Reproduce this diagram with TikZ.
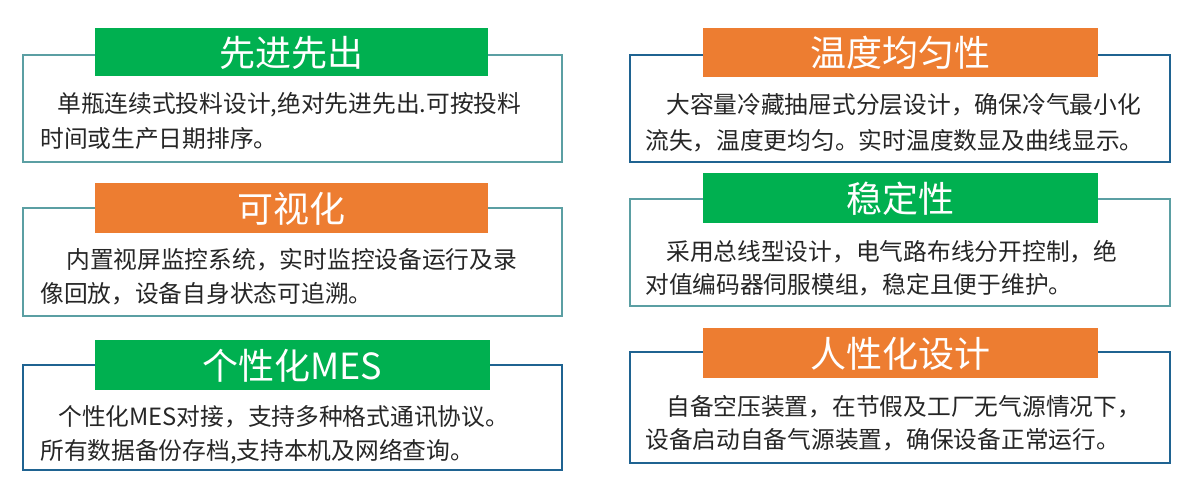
\documentclass[tikz,border=0pt]{standalone}
\usepackage{fontspec}
\newfontfamily\cjk{Noto Sans CJK SC}
\definecolor{hgreen}{HTML}{00B050}
\definecolor{horange}{HTML}{ED7D31}
\definecolor{bteal}{HTML}{5B9FA3}
\definecolor{bblue}{HTML}{1F6391}
\tikzset{
 frame/.style={draw=#1,line width=2.2pt,fill=white},
 head/.style={fill=#1,draw=none},
 htext/.style={text=white,font=\cjk\fontsize{27}{30}\selectfont,inner sep=0},
 btext/.style={anchor=west,font=\cjk\fontsize{17.8}{20}\selectfont,inner sep=0,text=black!85},
}
\begin{document}
\begin{tikzpicture}[x=0.75pt,y=-0.75pt]
\useasboundingbox (0,0) rectangle (1193,496);
% left 1
\draw[frame=bteal] (23,55) rectangle (562,162);
\path[head=hgreen] (95,28) rectangle (488,76);
\node[htext] (h1) at (291.5,53) {先进先出};
\node[btext] (t1a) at (57,105) {单瓶连续式投料设计,绝对先进先出.可按投料};
\node[btext] (t1b) at (40,139) {时间或生产日期排序。};
% left 2
\draw[frame=bteal] (23,208) rectangle (562,316);
\path[head=horange] (95,183) rectangle (488,233);
\node[htext] (h2) at (291.5,209) {可视化};
\node[btext] (t2a) at (66,260) {内置视屏监控系统，实时监控设备运行及录};
\node[btext] (t2b) at (40,294) {像回放，设备自身状态可追溯。};
% left 3
\draw[frame=bblue] (23,365) rectangle (562,470);
\path[head=hgreen] (95,340) rectangle (490,390);
\node[htext] (h3) at (292.5,366) {个性化MES};
\node[btext] (t3a) at (58,417) {个性化MES对接，支持多种格式通讯协议。};
\node[btext] (t3b) at (40,452) {所有数据备份存档,支持本机及网络查询。};
% right 1
\draw[frame=bblue] (630,55) rectangle (1170,162);
\path[head=horange] (703,28) rectangle (1098,77);
\node[htext] (h4) at (900.5,53) {温度均匀性};
\node[btext] (t4a) at (666,105) {大容量冷藏抽屉式分层设计，确保冷气最小化};
\node[btext] (t4b) at (645,141) {流失，温度更均匀。实时温度数显及曲线显示。};
% right 2
\draw[frame=bteal] (630,199) rectangle (1170,306);
\path[head=hgreen] (703,173) rectangle (1098,223);
\node[htext] (h5) at (900.5,199) {稳定性};
\node[btext] (t5a) at (666,252) {采用总线型设计，电气路布线分开控制，绝};
\node[btext] (t5b) at (645,285) {对值编码器伺服模组，稳定且便于维护。};
% right 3
\draw[frame=bblue] (630,352) rectangle (1170,463);
\path[head=horange] (703,328) rectangle (1098,378);
\node[htext] (h6) at (900.5,354) {人性化设计};
\node[btext] (t6a) at (666,407) {自备空压装置，在节假及工厂无气源情况下，};
\node[btext] (t6b) at (645,440) {设备启动自备气源装置，确保设备正常运行。};
\end{tikzpicture}
\end{document}
